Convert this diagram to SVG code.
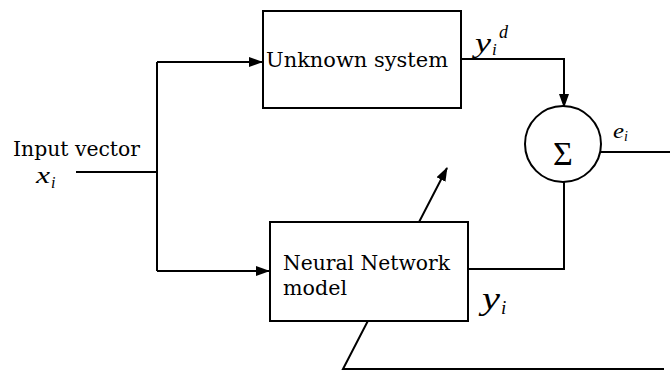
<svg xmlns="http://www.w3.org/2000/svg" width="670" height="372" viewBox="0 0 670 372">
<style>
.box{fill:#fff;stroke:#000;stroke-width:2}
.ln{fill:none;stroke:#000;stroke-width:2}
.t{font-family:"DejaVu Serif","Liberation Serif",serif;font-size:20px;fill:#000}
.m{font-family:"Liberation Serif","Times New Roman",serif;font-style:italic;fill:#000}
</style>
<defs>
<marker id="ah" markerWidth="14" markerHeight="10" refX="13" refY="5" orient="auto" markerUnits="userSpaceOnUse">
<path d="M0,0 L14,5 L0,10 Z" fill="#000"/>
</marker>
</defs>
<rect width="670" height="372" fill="#fff"/>
<g id="connectors">
<path class="ln" d="M76,172 H157"/>
<path class="ln" d="M157,62 V271"/>
<path class="ln" d="M157,62 H262" marker-end="url(#ah)"/>
<path class="ln" d="M157,271 H269" marker-end="url(#ah)"/>
<path class="ln" d="M461,59 H564 V107" marker-end="url(#ah)"/>
<path class="ln" d="M601,152 H670"/>
<path class="ln" d="M564,181 V269 H468"/>
<path class="ln" d="M664,369 H343 L447,168" marker-end="url(#ah)"/>
</g>
<g id="unknown">
<rect class="box" x="263" y="11" width="198" height="97"/>
<text class="t" x="266" y="67" textLength="182" lengthAdjust="spacingAndGlyphs">Unknown system</text>
</g>
<g id="nn">
<rect class="box" x="270" y="222" width="198" height="99"/>
<text class="t" x="283" y="270" textLength="167" lengthAdjust="spacingAndGlyphs">Neural Network</text>
<text class="t" x="283" y="295" textLength="64" lengthAdjust="spacingAndGlyphs">model</text>
</g>
<g id="sum">
<circle class="box" cx="563" cy="144" r="38"/>
<text x="563" y="165" text-anchor="middle" font-family="Liberation Serif,serif" font-size="34">Σ</text>
</g>
<g id="labels">
<text class="t" x="13" y="156" textLength="127" lengthAdjust="spacingAndGlyphs">Input vector</text>
<text class="m" x="36" y="183" font-size="24" textLength="14" lengthAdjust="spacingAndGlyphs">x</text>
<text class="m" x="51" y="188" font-size="16">i</text>
<text class="m" x="475" y="52" font-size="27" textLength="16" lengthAdjust="spacingAndGlyphs">y</text>
<text class="m" x="492" y="55" font-size="17">i</text>
<text class="m" x="499" y="38" font-size="18">d</text>
<text class="m" x="482" y="309" font-size="31" textLength="18" lengthAdjust="spacingAndGlyphs">y</text>
<text class="m" x="501" y="314" font-size="19">i</text>
<text class="m" x="613" y="138" font-size="20" textLength="11" lengthAdjust="spacingAndGlyphs">e</text>
<text class="m" x="624" y="141" font-size="14">i</text>
</g>
</svg>
